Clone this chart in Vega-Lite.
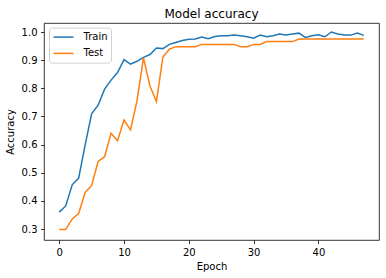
{
  "$schema": "https://vega.github.io/schema/vega-lite/v6.json",
  "width": 335,
  "height": 217,
  "autosize": {"type": "none"},
  "padding": {"left": 44, "top": 23, "right": 7, "bottom": 38},
  "background": "white",
  "title": {"text": "Model accuracy", "fontSize": 12, "font": "DejaVu Sans", "fontWeight": "normal", "color": "black", "anchor": "middle", "frame": "group", "baseline": "alphabetic", "offset": 5.5, "dy": 12.5},
  "data": {"values": [
    {"epoch": 0, "series": "Train", "acc": 0.360}, {"epoch": 1, "series": "Train", "acc": 0.382},
    {"epoch": 2, "series": "Train", "acc": 0.457}, {"epoch": 3, "series": "Train", "acc": 0.481},
    {"epoch": 4, "series": "Train", "acc": 0.599}, {"epoch": 5, "series": "Train", "acc": 0.709},
    {"epoch": 6, "series": "Train", "acc": 0.740}, {"epoch": 7, "series": "Train", "acc": 0.797},
    {"epoch": 8, "series": "Train", "acc": 0.829}, {"epoch": 9, "series": "Train", "acc": 0.856},
    {"epoch": 10, "series": "Train", "acc": 0.902}, {"epoch": 11, "series": "Train", "acc": 0.886},
    {"epoch": 12, "series": "Train", "acc": 0.896}, {"epoch": 13, "series": "Train", "acc": 0.910},
    {"epoch": 14, "series": "Train", "acc": 0.920}, {"epoch": 15, "series": "Train", "acc": 0.943},
    {"epoch": 16, "series": "Train", "acc": 0.941}, {"epoch": 17, "series": "Train", "acc": 0.956},
    {"epoch": 18, "series": "Train", "acc": 0.963}, {"epoch": 19, "series": "Train", "acc": 0.970},
    {"epoch": 20, "series": "Train", "acc": 0.974}, {"epoch": 21, "series": "Train", "acc": 0.975},
    {"epoch": 22, "series": "Train", "acc": 0.982}, {"epoch": 23, "series": "Train", "acc": 0.976},
    {"epoch": 24, "series": "Train", "acc": 0.984}, {"epoch": 25, "series": "Train", "acc": 0.987},
    {"epoch": 26, "series": "Train", "acc": 0.987}, {"epoch": 27, "series": "Train", "acc": 0.989},
    {"epoch": 28, "series": "Train", "acc": 0.987}, {"epoch": 29, "series": "Train", "acc": 0.983},
    {"epoch": 30, "series": "Train", "acc": 0.978}, {"epoch": 31, "series": "Train", "acc": 0.989},
    {"epoch": 32, "series": "Train", "acc": 0.983}, {"epoch": 33, "series": "Train", "acc": 0.987},
    {"epoch": 34, "series": "Train", "acc": 0.993}, {"epoch": 35, "series": "Train", "acc": 0.989},
    {"epoch": 36, "series": "Train", "acc": 0.993}, {"epoch": 37, "series": "Train", "acc": 0.996},
    {"epoch": 38, "series": "Train", "acc": 0.981}, {"epoch": 39, "series": "Train", "acc": 0.987},
    {"epoch": 40, "series": "Train", "acc": 0.990}, {"epoch": 41, "series": "Train", "acc": 0.983},
    {"epoch": 42, "series": "Train", "acc": 1.000}, {"epoch": 43, "series": "Train", "acc": 0.993},
    {"epoch": 44, "series": "Train", "acc": 0.989}, {"epoch": 45, "series": "Train", "acc": 0.989},
    {"epoch": 46, "series": "Train", "acc": 0.996}, {"epoch": 47, "series": "Train", "acc": 0.988},
    {"epoch": 0, "series": "Test", "acc": 0.298}, {"epoch": 1, "series": "Test", "acc": 0.298},
    {"epoch": 2, "series": "Test", "acc": 0.336}, {"epoch": 3, "series": "Test", "acc": 0.355},
    {"epoch": 4, "series": "Test", "acc": 0.430}, {"epoch": 5, "series": "Test", "acc": 0.455},
    {"epoch": 6, "series": "Test", "acc": 0.540}, {"epoch": 7, "series": "Test", "acc": 0.557},
    {"epoch": 8, "series": "Test", "acc": 0.640}, {"epoch": 9, "series": "Test", "acc": 0.614},
    {"epoch": 10, "series": "Test", "acc": 0.687}, {"epoch": 11, "series": "Test", "acc": 0.652},
    {"epoch": 12, "series": "Test", "acc": 0.755}, {"epoch": 13, "series": "Test", "acc": 0.908},
    {"epoch": 14, "series": "Test", "acc": 0.808}, {"epoch": 15, "series": "Test", "acc": 0.753},
    {"epoch": 16, "series": "Test", "acc": 0.911}, {"epoch": 17, "series": "Test", "acc": 0.939},
    {"epoch": 18, "series": "Test", "acc": 0.948}, {"epoch": 19, "series": "Test", "acc": 0.948},
    {"epoch": 20, "series": "Test", "acc": 0.948}, {"epoch": 21, "series": "Test", "acc": 0.948},
    {"epoch": 22, "series": "Test", "acc": 0.956}, {"epoch": 23, "series": "Test", "acc": 0.956},
    {"epoch": 24, "series": "Test", "acc": 0.956}, {"epoch": 25, "series": "Test", "acc": 0.956},
    {"epoch": 26, "series": "Test", "acc": 0.956}, {"epoch": 27, "series": "Test", "acc": 0.956},
    {"epoch": 28, "series": "Test", "acc": 0.948}, {"epoch": 29, "series": "Test", "acc": 0.948},
    {"epoch": 30, "series": "Test", "acc": 0.956}, {"epoch": 31, "series": "Test", "acc": 0.956},
    {"epoch": 32, "series": "Test", "acc": 0.966}, {"epoch": 33, "series": "Test", "acc": 0.966},
    {"epoch": 34, "series": "Test", "acc": 0.966}, {"epoch": 35, "series": "Test", "acc": 0.966},
    {"epoch": 36, "series": "Test", "acc": 0.966}, {"epoch": 37, "series": "Test", "acc": 0.975},
    {"epoch": 38, "series": "Test", "acc": 0.975}, {"epoch": 39, "series": "Test", "acc": 0.975},
    {"epoch": 40, "series": "Test", "acc": 0.975}, {"epoch": 41, "series": "Test", "acc": 0.975},
    {"epoch": 42, "series": "Test", "acc": 0.975}, {"epoch": 43, "series": "Test", "acc": 0.975},
    {"epoch": 44, "series": "Test", "acc": 0.975}, {"epoch": 45, "series": "Test", "acc": 0.975},
    {"epoch": 46, "series": "Test", "acc": 0.975}, {"epoch": 47, "series": "Test", "acc": 0.975}
  ]},
  "mark": {"type": "line", "strokeWidth": 1.5, "clip": true},
  "encoding": {
    "x": {"field": "epoch", "type": "quantitative", "title": "Epoch",
          "scale": {"domain": [-2.35, 49.35], "nice": false, "zero": false},
          "axis": {"values": [0, 10, 20, 30, 40], "format": "d"}},
    "y": {"field": "acc", "type": "quantitative", "title": "Accuracy",
          "scale": {"domain": [0.261, 1.032], "nice": false, "zero": false},
          "axis": {"values": [0.3, 0.4, 0.5, 0.6, 0.7, 0.8, 0.9, 1.0], "format": ".1f", "titlePadding": 6}},
    "color": {"field": "series", "type": "nominal",
              "scale": {"domain": ["Train", "Test"], "range": ["#1f77b4", "#ff7f0e"]},
              "legend": {"title": null}}
  },
  "config": {
    "view": {"stroke": "black", "strokeWidth": 0.8},
    "axis": {"domain": false, "grid": false, "tickSize": 3.5, "tickColor": "black", "tickWidth": 0.8,
             "labelFont": "DejaVu Sans", "labelFontSize": 10, "labelColor": "black", "labelPadding": 3.5,
             "titleFont": "DejaVu Sans", "titleFontSize": 10, "titleFontWeight": "normal", "titleColor": "black", "titlePadding": 4},
    "legend": {"orient": "none", "legendX": 5, "legendY": 4.6, "strokeColor": "#d0d0d0", "fillColor": "white",
               "cornerRadius": 3, "padding": 3.5, "symbolType": "M-2,0H2", "symbolSize": 100, "symbolStrokeWidth": 1.5,
               "symbolOffset": 5, "labelFont": "DejaVu Sans", "labelFontSize": 10, "labelColor": "black", "labelOffset": 14, "rowPadding": 5.3}
  }
}
